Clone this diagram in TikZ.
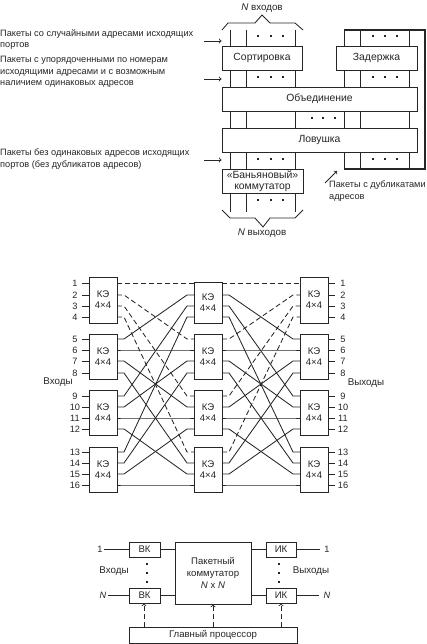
\documentclass[tikz,border=0pt]{standalone}
\usepackage{fontspec}
\setmainfont{Liberation Sans}
\definecolor{Ink}{HTML}{262626}
\tikzset{
  blockbox/.style={draw=Ink,fill=white,line width=.9pt,inner sep=0pt,align=center,font=\fontsize{9.6}{12}\selectfont},
  widebox/.style={blockbox,font=\fontsize{10.4}{11.5}\selectfont},
  wire/.style={draw=Ink,line width=.85pt},
  dashwire/.style={wire,dash pattern=on 5pt off 3pt},
  noteline/.style={anchor=north west,inner sep=0pt,align=left,font=\fontsize{9.2}{11.5}\selectfont},
  portnum/.style={inner sep=0pt,font=\fontsize{9.2}{10}\selectfont},
}
% box by its corners
\newcommand{\cornerbox}[7][blockbox]{%
  \node[#1,minimum width={#5-#3},minimum height={#6-#4}] (#2) at ({(#3+#5)/2},{(#4+#6)/2}) {#7};
}
\newcommand{\tripledots}[4]{%
  \foreach \dotx in {#1,#2,#3}{
    \fill[Ink] (\dotx-1,#4-1) rectangle (\dotx+1,#4+1);
  }
}
% a bundle of vertical lines between two named shapes
\newcommand{\bundle}[3]{%
  \foreach \busx in {#3}{
    \draw[wire] (#1 -| \busx,0) -- (#2 -| \busx,0);
  }
}
\newcommand{\crossblock}[4]{%
  \cornerbox{#1}{#2}{#3}{#2+28}{#4}{КЭ\\[-1pt]4×4}
}
\newcommand{\wirepair}[3]{%
  \draw[#3] (#1) -- ++(7,0) -- ([xshift=-7pt]#2) -- (#2);
}
\begin{document}
\begin{tikzpicture}[x=1pt,y=-1pt,font=\fontsize{9.8}{11.5}\selectfont,text=Ink,>=to]
\path[use as bounding box] (0,0) rectangle (427,644);

% upper figure
\node[noteline] (noteA) at (0,29) {Пакеты со случайными адресами исходящих\\портов};
\node[noteline] (noteB) at (0,56) {Пакеты с упорядоченными по номерам\\исходящими адресами и с возможным\\наличием одинаковых адресов};
\node[noteline] (noteC) at (0,149) {Пакеты без одинаковых адресов исходящих\\портов (без дубликатов адресов)};
\node[noteline] (noteD) at (329,181) {Пакеты с дубликатами\\адресов};
\node (inlabel) at (262,8) {\textit{N} входов};
\node (outlabel) at (262,233) {\textit{N} выходов};

\cornerbox[widebox]{sorter}{222}{46}{302}{70}{Сортировка}
\cornerbox[widebox]{delay}{336}{46}{417}{70}{Задержка}
\cornerbox[widebox]{merger}{222}{87}{417}{111}{Объединение}
\cornerbox[widebox]{trap}{222}{128}{417}{152}{Ловушка}
\cornerbox[widebox]{banyan}{222}{169}{303}{193}{«Баньяновый»\\коммутатор}

\coordinate (intop) at (230,30);
\coordinate (outend) at (230,212);
\coordinate (looptop) at (344,30);
\coordinate (loopend) at (344,169);
\bundle{intop}{sorter.north}{230,246,295}
\bundle{sorter.south}{merger.north}{230,246,295}
\bundle{delay.south}{merger.north}{344,360,409}
\bundle{looptop}{delay.north}{344,360,409}
\bundle{merger.south}{trap.north}{230,246,295,344,360,409}
\bundle{trap.south}{banyan.north}{230,246,295}
\bundle{trap.south}{loopend}{344,360,409}
\bundle{banyan.south}{outend}{230,246,295}
\draw[Ink,line width=2pt] (looptop) -- (425,30) -- (425,169) -- (loopend);

\tripledots{258}{271}{283}{36}
\tripledots{373}{385}{397}{36}
\tripledots{258}{271}{283}{77}
\tripledots{373}{385}{397}{77}
\tripledots{312}{323}{335}{118}
\tripledots{258}{271}{283}{159}
\tripledots{373}{385}{397}{159}
\tripledots{258}{271}{283}{200}

\draw[wire] (222,30) -- (228,23) -- (255,23) -- (262,15) -- (270,23) -- (295,23) -- (303,30);
\draw[wire] (222,210) -- (230,218) -- (255,218) -- (263,227) -- (270,218) -- (295,218) -- (303,210);

\coordinate (arrowA) at (204,41);
\coordinate (arrowB) at (204,79);
\coordinate (arrowC) at (204,160);
\coordinate (arrowD) at (325,183);
\coordinate (arrowDend) at (337,171);
\draw[wire,->] (arrowA) -- (arrowA -| sorter.west);
\draw[wire,->] (arrowB) -- (arrowB -| sorter.west);
\draw[wire,->] (arrowC) -- (arrowC -| sorter.west);
\draw[wire,->] (arrowD) -- (arrowDend);

% middle figure
\foreach \rowname/\rowy/\rowend in {a/277/323,b/334/379,c/390/435,d/447/492}{
  \crossblock{left\rowname}{89}{\rowy}{\rowend}
  \crossblock{right\rowname}{300}{\rowy}{\rowend}
}
\crossblock{mida}{194}{282}{323}
\crossblock{midb}{194}{334}{379}
\crossblock{midc}{194}{390}{435}
\crossblock{midd}{194}{447}{492}
\foreach \port/\porty in {1/283,2/295,3/306,4/317,5/339,6/350,7/361,8/373,9/396,10/407,11/418,12/429,13/452,14/463,15/474,16/485}{
  \coordinate (lstub\port) at (82,\porty);
  \coordinate (lin\port) at (89,\porty);
  \coordinate (lout\port) at (117,\porty);
  \coordinate (min\port) at (194,\porty);
  \coordinate (mout\port) at (222,\porty);
  \coordinate (rin\port) at (300,\porty);
  \coordinate (rout\port) at (328,\porty);
  \coordinate (rstub\port) at (335,\porty);
  \node[portnum] (numin\port) at (75,\porty) {\port};
  \node[portnum] (numout\port) at (343,\porty) {\port};
  \draw[wire] (lstub\port) -- (lin\port);
  \draw[wire] (rout\port) -- (rstub\port);
}
\foreach \src/\dst in {1/1,2/5,3/9,4/13}{
  \wirepair{lout\src}{min\dst}{dashwire}
  \wirepair{mout\dst}{rin\src}{dashwire}
}
\foreach \src/\dst in {5/2,6/6,7/10,8/14,9/3,10/7,11/11,12/15,13/4,14/8,15/12,16/16}{
  \wirepair{lout\src}{min\dst}{wire}
  \wirepair{mout\dst}{rin\src}{wire}
}
\node (gridin) at (58,382) {Входы};
\node (gridout) at (366,383) {Выходы};

% lower figure
\cornerbox{vkone}{129}{542}{160}{557}{ВК}
\cornerbox{vkn}{129}{588}{160}{603}{ВК}
\cornerbox{ikone}{266}{542}{296}{557}{ИК}
\cornerbox{ikn}{266}{588}{296}{603}{ИК}
\cornerbox{fabric}{175}{542}{251}{604}{Пакетный\\коммутатор\\\textit{N} x \textit{N}}
\cornerbox{cpu}{129}{627}{297}{643}{Главный процессор}
\node[portnum] (inone) at (100,549.5) {1};
\node[portnum] (inn) at (103,595.5) {\textit{N}};
\node[portnum] (outone) at (327,549.5) {1};
\node[portnum] (outn) at (327,595.5) {\textit{N}};
\node (lowin) at (114,571) {Входы};
\node (lowout) at (311,571) {Выходы};
\draw[wire] (inone) ++(4,0) -- (vkone);
\draw[wire] (inn) ++(5,0) -- (vkn);
\draw[wire] (ikone) -- ([xshift=-4pt]outone.west);
\draw[wire] (ikn) -- ([xshift=-4pt]outn.west);
\draw[wire] (vkone.east) -- (vkone.east -| fabric.west);
\draw[wire] (vkn.east) -- (vkn.east -| fabric.west);
\draw[wire] (ikone.west) -- (ikone.west -| fabric.east);
\draw[wire] (ikn.west) -- (ikn.west -| fabric.east);
\foreach \doty in {564,573,582}{
  \fill[Ink] (146,\doty-1) rectangle (148,\doty+1);
  \fill[Ink] (278,\doty-1) rectangle (280,\doty+1);
}
\draw[dashwire,->] (cpu.north -| 144,0) -- (vkn.south -| 144,0);
\draw[dashwire,->] (cpu.north -| fabric.south) -- (fabric.south);
\draw[dashwire,->] (cpu.north -| 281,0) -- (ikn.south -| 281,0);
\end{tikzpicture}
\end{document}
